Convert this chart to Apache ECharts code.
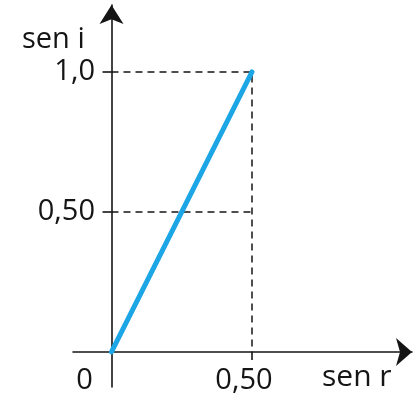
<!DOCTYPE html>
<html>
<head>
<meta charset="utf-8">
<script src="https://cdn.jsdelivr.net/npm/echarts@6/dist/echarts.min.js"></script>
<style>html,body{margin:0;padding:0;background:#fff}#c{width:413px;height:394px}</style>
</head>
<body>
<div id="c"></div>
<script>
// Data
const senR = [0, 0.5];
const senI = [0, 1.0];
const xTickValues = [0, 0.5];
const xTickLabels = ['0', '0,50'];
const yTickValues = [0.5, 1.0];
const yTickLabels = ['0,50', '1,0'];
const xName = 'sen r';
const yName = 'sen i';

const FONT = 'Open Sans';
const INK = '#151515';
const BLUE = '#1ca6e6';

const linePts = senR.map((x, i) => [x, senI[i]]);
const xEnd = senR[senR.length - 1], yEnd = senI[senI.length - 1];
const guide1 = [[0, yEnd], [xEnd, yEnd], [xEnd, 0]];
const guide2 = [[0, yTickValues[0]], [xEnd, yTickValues[0]]];

const chart = echarts.init(document.getElementById('c'));
chart.setOption({
  animation: false,
  grid: { left: 73, right: 1, top: 5, bottom: 7, containLabel: false, outerBoundsMode: 'none' },
  xAxis: {
    type: 'value', min: -0.137, max: 1.0694,
    splitLine: { show: false },
    axisLine: { onZero: true, lineStyle: { color: INK, width: 1.6 }, symbol: ['none', 'arrow'], symbolSize: [21, 16] },
    axisTick: { show: true, customValues: [xTickValues[1]], length: 8, lineStyle: { color: INK, width: 1.6 } },
    axisLabel: {
      customValues: xTickValues, margin: -21, hideOverlap: false,
      formatter: v => (v === 0 ? '{z|' + xTickLabels[0] + '}' : '{h|' + xTickLabels[xTickValues.indexOf(v)] + '}'),
      rich: {
        z: { fontFamily: FONT, fontSize: 29, color: INK, padding: [0, 54, 0, 0] },
        h: { fontFamily: FONT, fontSize: 29, color: INK, padding: [0, 16, 0, 0] }
      }
    }
  },
  yAxis: {
    type: 'value', min: -0.125, max: 1.239,
    splitLine: { show: false },
    axisLine: { onZero: true, lineStyle: { color: INK, width: 1.6 }, symbol: ['none', 'arrow'], symbolSize: [18, 19] },
    axisTick: { show: true, customValues: yTickValues, length: 9, lineStyle: { color: INK, width: 1.6 } },
    axisLabel: {
      customValues: yTickValues, margin: -22, hideOverlap: false,
      formatter: v => yTickLabels[yTickValues.indexOf(v)],
      fontFamily: FONT, fontSize: 29, color: INK
    }
  },
  graphic: [
    { type: 'text', left: 22, top: 25, style: { text: yName, fontFamily: FONT, fontSize: 29, fill: INK } },
    { type: 'text', left: 322, top: 362, style: { text: xName, fontFamily: FONT, fontSize: 30, fill: INK } }
  ],
  series: [
    { type: 'line', data: guide1, symbol: 'none', silent: true,
      lineStyle: { color: INK, width: 1.5, type: [7, 5] }, z: 1 },
    { type: 'line', data: guide2, symbol: 'none', silent: true,
      lineStyle: { color: INK, width: 1.5, type: [7, 5] }, z: 1 },
    { type: 'line', data: linePts, symbol: 'none',
      lineStyle: { color: BLUE, width: 5, cap: 'round' }, z: 3 }
  ]
});
</script>
</body>
</html>
